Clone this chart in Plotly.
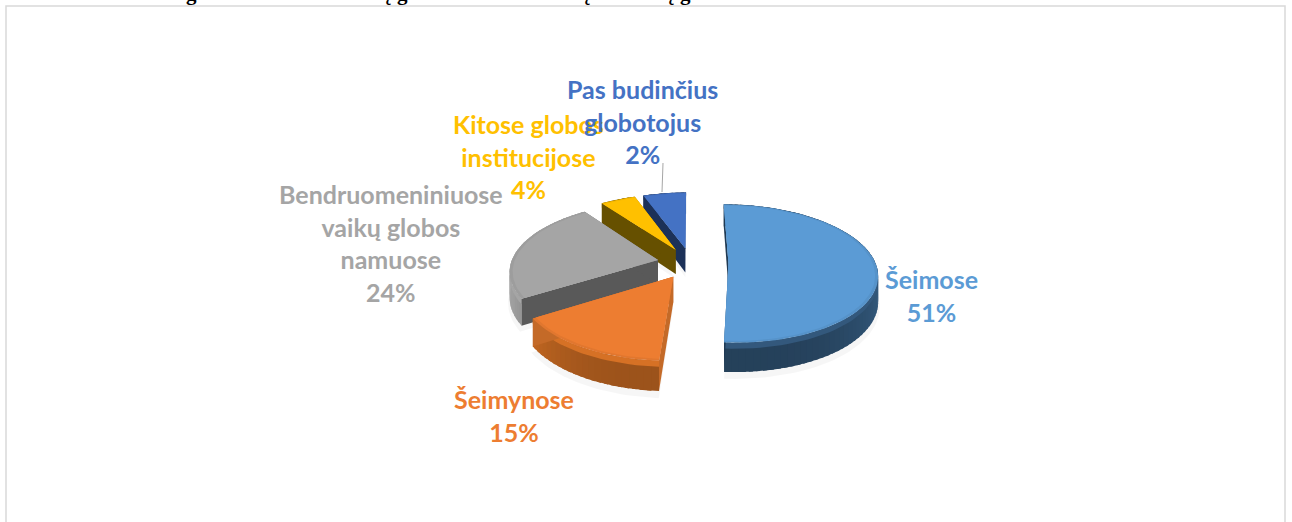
import math
import plotly.graph_objects as go

# --- data ---
categories = ["Šeimose", "Šeimynose", "Bendruomeniniuose<br>vaikų globos<br>namuose",
              "Kitose globos<br>institucijose", "Pas budinčius<br>globotojus"]
percent_labels = [51, 15, 24, 4, 2]      # printed on the labels
drawn_shares = [51, 15, 24, 4.5, 5.5]    # size of the slices as actually drawn
top_colors = ["#5B9BD5", "#ED7D31", "#A5A5A5", "#FFC000", "#4472C4"]
wall_colors = ["#2B4B69", "#B5601F", "#8C8C8C", "#7F6000", "#1F3864"]
cut_colors = ["#1F3A54", "#C46A28", "#595959", "#665000", "#1C3158"]
label_colors = ["#5B9BD5", "#ED7D31", "#A5A5A5", "#FFC000", "#4472C4"]
label_xy = [(931, 295), (514, 415), (391, 243), (528, 156), (642, 121)]
explode_by_slice = [0.255, 0.23, 0.23, 0.23, 0.23]
draw_order = [4, 3, 2, 0, 1]
clipped_title_bits = [("g", 191), ("ų g", 394), ("ų", 585), ("ų g", 677)]

# --- view of the tilted pie ---
CX, CY, A, B, K, DEPTH = 691, 263, 147, 67.6, 0.145, 25


def project(u, v, drop=0.0):
    s = 1 / (1 + K * v)
    return CX + A * u * s, CY - B * v * s + drop * s


def darken(hex_color, f):
    r, g, b = (int(hex_color[i:i + 2], 16) for i in (1, 3, 5))
    cl = lambda c: max(0, min(255, round(c * f)))
    return f"rgb({cl(r)},{cl(g)},{cl(b)})"


def poly(fig, pts, color):
    fig.add_trace(go.Scatter(x=[p[0] for p in pts], y=[p[1] for p in pts], mode="lines",
                             fill="toself", fillcolor=color,
                             line=dict(color=color, width=0), hoverinfo="skip",
                             showlegend=False))


total = sum(drawn_shares)
spans = []
start = 0.0
for share in drawn_shares:
    end = start + 360 * share / total
    spans.append((math.radians(start), math.radians(end)))
    start = end

fig = go.Figure()

# soft shadow beneath the slices
for i in draw_order:
    t0, t1 = spans[i]
    m = (t0 + t1) / 2
    ex, ey = explode_by_slice[i] * math.sin(m), explode_by_slice[i] * math.cos(m)
    steps = max(6, int((t1 - t0) * 30))
    ts = [t0 + (t1 - t0) * j / steps for j in range(steps + 1)]
    pts = [project(ex, ey, DEPTH + 5)]
    pts += [project(ex + 1.01 * math.sin(t), ey + 1.01 * math.cos(t), DEPTH + 5) for t in ts]
    poly(fig, pts, "rgba(0,0,0,0.035)")

for i in draw_order:
    t0, t1 = spans[i]
    m = (t0 + t1) / 2
    ex, ey = explode_by_slice[i] * math.sin(m), explode_by_slice[i] * math.cos(m)
    apex = (ex, ey)
    rim = lambda t, r=1.0: (ex + r * math.sin(t), ey + r * math.cos(t))

    # outer wall, in overlapping shaded strips so no seams show
    steps = max(8, int((t1 - t0) * 24))
    step = (t1 - t0) / steps
    for j in range(steps):
        a = t0 + step * j
        b = min(t1, a + step * 1.6)
        shade = 0.86 + 0.34 * abs(math.sin(a + step / 2)) ** 3
        poly(fig, [project(*rim(a)), project(*rim(b)),
                   project(*rim(b), DEPTH), project(*rim(a), DEPTH)],
             darken(wall_colors[i], shade))
    # lighter bevel along the upper edge of the wall
    ts = [t0 + (t1 - t0) * j / steps for j in range(steps + 1)]
    band = [project(*rim(t)) for t in ts] + [project(*rim(t), DEPTH * 0.2) for t in reversed(ts)]
    poly(fig, band, darken(wall_colors[i], 1.18))

    # the two cut faces
    for t in (t0, t1):
        poly(fig, [project(*apex), project(*rim(t)), project(*rim(t), DEPTH),
                   project(*apex, DEPTH)], cut_colors[i])

    # top face with a slightly darker bevel at the rim
    n = max(8, int((t1 - t0) * 30))
    ts = [t0 + (t1 - t0) * j / n for j in range(n + 1)]
    poly(fig, [project(*apex)] + [project(*rim(t)) for t in ts], darken(top_colors[i], 0.95))
    poly(fig, [project(*apex)] + [project(*rim(t, 0.98)) for t in ts], top_colors[i])

# chart labels
for i in range(len(categories)):
    fig.add_annotation(x=label_xy[i][0], y=label_xy[i][1], xref="x", yref="y",
                       text=f"{categories[i]}<br>{percent_labels[i]}%", showarrow=False,
                       align="center", xanchor="center", yanchor="middle",
                       font=dict(family="Lato", size=25, color=label_colors[i], weight="bold"))

# the page heading is cut off by the top edge: only its descenders show
for bit, x in clipped_title_bits:
    fig.add_annotation(x=x / 1292, y=1 + 7 / 522, xref="paper", yref="paper", text=bit,
                       showarrow=False, xanchor="center", yanchor="middle", borderpad=0,
                       font=dict(family="Liberation Serif", size=21, color="black", weight="bold"))

fig.update_layout(
    width=1292, height=522, margin=dict(l=0, r=0, t=0, b=0),
    paper_bgcolor="white", plot_bgcolor="white", showlegend=False,
    xaxis=dict(range=[0, 1292], visible=False, fixedrange=True),
    yaxis=dict(range=[522, 0], visible=False, fixedrange=True),
    shapes=[
        dict(type="rect", xref="x", yref="y", x0=6, x1=1285, y0=6, y1=540,
             line=dict(color="#D9D9D9", width=1.5), layer="below"),
        dict(type="line", xref="x", yref="y", x0=663, y0=163, x1=662, y1=192,
             line=dict(color="#A6A6A6", width=1)),
    ],
)
fig.write_html("out.html", config={"displayModeBar": False},
               post_script="document.body.style.margin='0';document.body.style.overflow='hidden';")
